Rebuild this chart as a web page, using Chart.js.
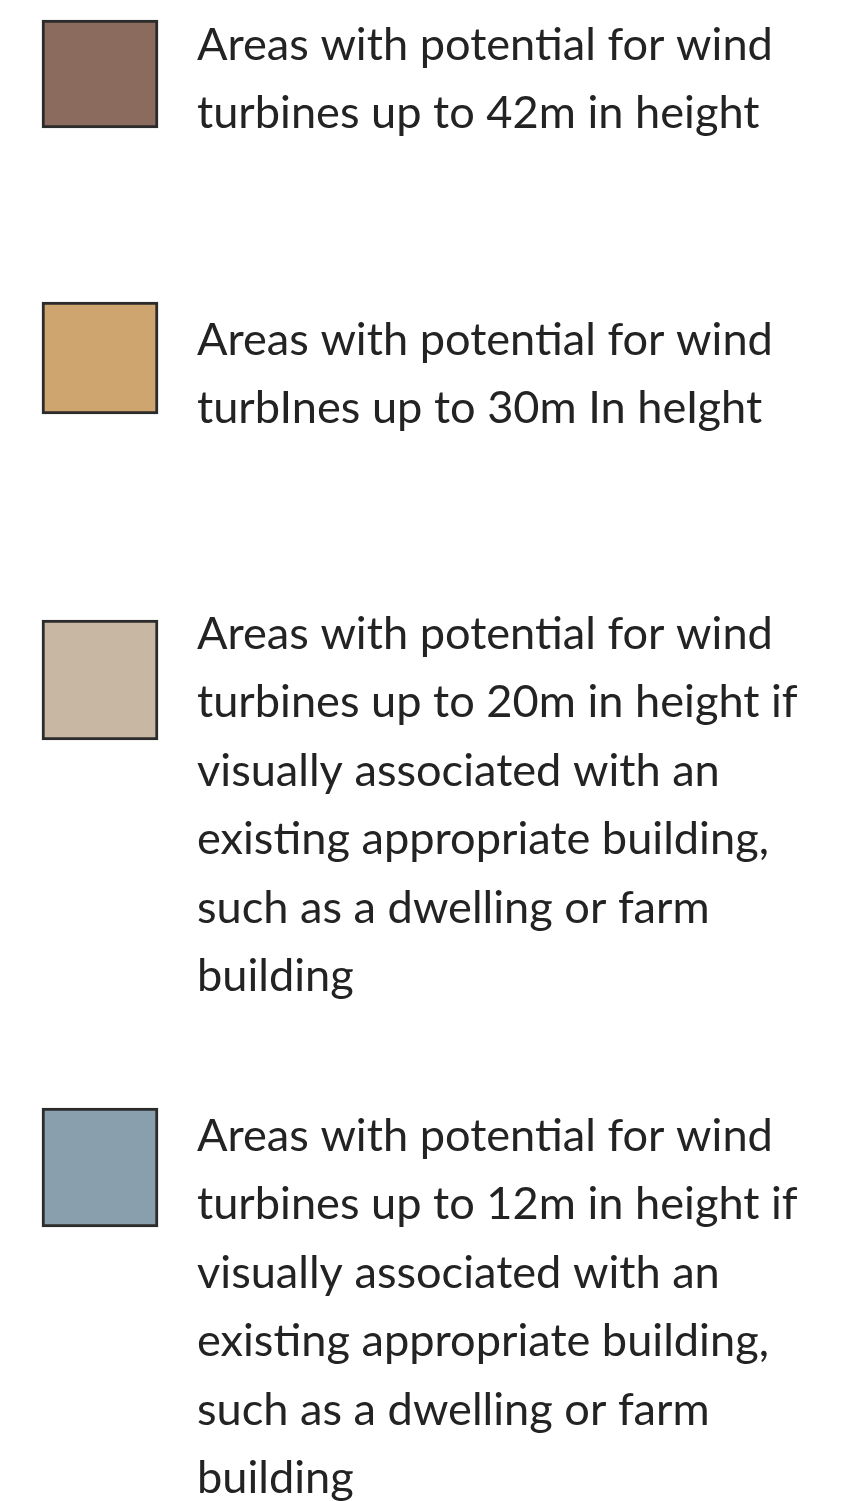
<!DOCTYPE html>
<html>
<head>
<meta charset="utf-8">
<script src="https://cdn.jsdelivr.net/npm/chart.js@4.4.1/dist/chart.umd.min.js"></script>
<style>
  html, body { margin: 0; padding: 0; background: #fff; }
  #wrap { width: 847px; height: 1501px; }
</style>
</head>
<body>
<div id="wrap"><canvas id="legend" width="847" height="1501"></canvas></div>
<script>
// legend entries (one text block per swatch)
const entryLabels = [
  ["Areas with potential for wind", "turbines up to 42m in height"],
  ["Areas with potential for wind", "turbInes up to 30m In heIght"],
  ["Areas with potential for wind", "turbines up to 20m in height if", "visually associated with an",
   "existing appropriate building,", "such as a dwelling or farm", "building"],
  ["Areas with potential for wind", "turbines up to 12m in height if", "visually associated with an",
   "existing appropriate building,", "such as a dwelling or farm", "building"]
];
const entryColors = ["#8b6b5d", "#cea46f", "#c8b8a3", "#8a9fad"];

// page layout, in sheet pixels (the scales run 0..847 and 0..1501)
const layout = {
  swatchX: 100,
  swatchWidth: 116,
  swatchSpans: [[20, 128], [302, 414], [620, 740], [1108, 1227]],
  textX: 197,
  firstBaseline: [60, 355, 649, 1151],
  lineStep: 68.4,
  fitWidth: 576
};

const textPlugin = {
  id: "entryText",
  afterDatasetsDraw(chart) {
    const { ctx, scales } = chart;
    ctx.save();
    ctx.font = "40px Lato";
    const w = ctx.measureText(entryLabels[0][0]).width;
    const size = 40 * layout.fitWidth / w;
    ctx.font = size.toFixed(2) + "px Lato";
    ctx.fillStyle = "#232323";
    ctx.textBaseline = "alphabetic";
    ctx.textAlign = "left";
    entryLabels.forEach((lines, i) => {
      lines.forEach((line, j) => {
        const y = scales.y.getPixelForValue(layout.firstBaseline[i] + j * layout.lineStep);
        ctx.fillText(line, scales.x.getPixelForValue(layout.textX), y);
      });
    });
    ctx.restore();
  }
};

new Chart(document.getElementById("legend"), {
  type: "bar",
  data: {
    datasets: entryColors.map((color, i) => ({
      data: [{ x: layout.swatchX, y: layout.swatchSpans[i] }],
      backgroundColor: color,
      borderColor: "#2b2b2b",
      borderWidth: 3,
      borderSkipped: false,
      barThickness: layout.swatchWidth,
      grouped: false
    }))
  },
  options: {
    responsive: false,
    animation: false,
    layout: { padding: 0 },
    scales: {
      x: { type: "linear", min: 0, max: 847, offset: false, display: false },
      y: { type: "linear", min: 0, max: 1501, reverse: true, display: false }
    },
    plugins: { legend: { display: false }, tooltip: { enabled: false } }
  },
  plugins: [textPlugin]
});
</script>
</body>
</html>
